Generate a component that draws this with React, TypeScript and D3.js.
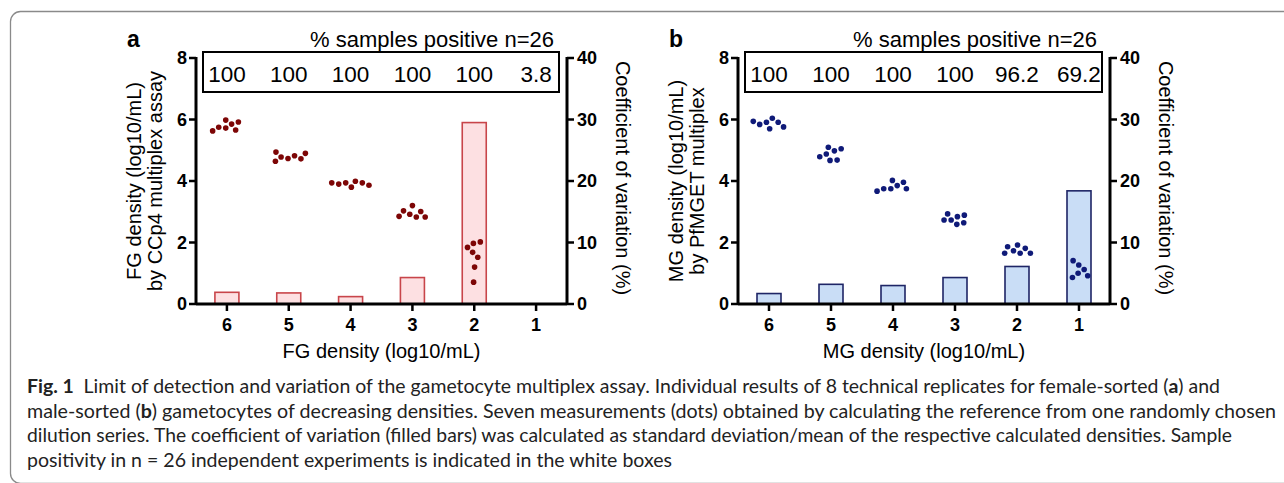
import * as d3 from 'd3';

const CATEGORIES = ['6', '5', '4', '3', '2', '1'];
const LEFT_TICKS = [0, 2, 4, 6, 8];
const RIGHT_TICKS = [0, 10, 20, 30, 40];

// panel a: female gametocytes (FG)
const FG_DOTS: number[][] = [
  [5.85, 5.98, 5.72, 5.92, 5.63, 5.66, 5.75],
  [4.82, 4.94, 4.73, 4.9, 4.64, 4.72, 4.78],
  [3.94, 3.9, 3.99, 3.8, 3.94, 3.86, 3.94],
  [3.01, 2.85, 3.2, 2.83, 3.03, 2.83, 2.92],
  [1.97, 1.84, 1.52, 1.2, 0.71, 2.02, 1.68],
  [],
];
const FG_CV = [1.9, 1.8, 1.2, 4.3, 29.5, 0];
const FG_POSITIVE = ['100', '100', '100', '100', '100', '3.8'];

// panel b: male gametocytes (MG)
const MG_DOTS: number[][] = [
  [5.91, 5.84, 6.04, 5.7, 5.94, 5.76, 5.91],
  [5.05, 4.79, 4.98, 4.67, 5.1, 4.68, 4.88],
  [3.85, 4.02, 3.75, 3.96, 3.67, 3.75, 3.75],
  [2.89, 2.73, 2.84, 2.59, 2.93, 2.64, 2.73],
  [1.81, 1.65, 1.92, 1.65, 1.86, 1.65, 1.73],
  [1.27, 1.0, 1.41, 1.12, 0.86, 0.92],
];
const MG_CV = [1.7, 3.2, 3.0, 4.3, 6.1, 18.4];
const MG_POSITIVE = ['100', '100', '100', '100', '96.2', '69.2'];

const FONT = 'Liberation Sans, Arial, sans-serif';

// beeswarm: y is pinned to the value, d3-force only moves the dots sideways
interface SwarmNode extends d3.SimulationNodeDatum { fy: number }
function swarm(values: number[], y: (v: number) => number, r: number) {
  const nodes: SwarmNode[] = values.map(v => ({ fy: y(v) }));
  d3.forceSimulation(nodes)
    .force('x', d3.forceX(0).strength(0.05))
    .force('collide', d3.forceCollide(r))
    .stop()
    .tick(300);
  return nodes.map(n => ({ dx: n.x ?? 0, cy: n.fy }));
}

interface PanelProps {
  x0: number;
  x1: number;
  tag: string;
  dots: number[][];
  cv: number[];
  positive: string[];
  dotColor: string;
  barFill: string;
  barStroke: string;
  xTitle: string;
  yTitle: [string, string];
}

function Panel({ x0, x1, tag, dots, cv, positive, dotColor, barFill, barStroke, xTitle, yTitle }: PanelProps) {
  const x = d3.scaleBand().domain(CATEGORIES).range([x0, x1]);
  const y = d3.scaleLinear().domain([0, 8]).range([304, 58]);
  const yR = d3.scaleLinear().domain([0, 40]).range([304, 58]);
  const cx = (c: string) => (x(c) ?? 0) + x.bandwidth() / 2;
  const barW = 24;
  const [top, bottom] = [y.range()[1], y.range()[0]];

  return (
    <g fontFamily={FONT}>
      {/* panel tag + title */}
      <text x={x0 - 69} y={47} fontSize={23} fontWeight="bold">{tag}</text>
      <text x={x1 - 13} y={47} fontSize={22} textAnchor="end">% samples positive n=26</text>

      {/* box with % positive */}
      <rect x={x0 + 7} y={52} width={x1 - x0 - 15} height={40} fill="white" stroke="black" strokeWidth={2} />
      {CATEGORIES.map((c, i) => (
        <text key={c} x={cx(c)} y={82} fontSize={22.5} textAnchor="middle">{positive[i]}</text>
      ))}

      {/* CV bars */}
      {CATEGORIES.map((c, i) => (
        <rect key={c} x={cx(c) - barW / 2} y={yR(cv[i])} width={barW} height={yR(0) - yR(cv[i])}
          fill={barFill} stroke={barStroke} strokeWidth={1.6} />
      ))}

      {/* dots */}
      {CATEGORIES.map((c, i) =>
        swarm(dots[i], y, 3.55).map((p, j) => (
          <circle key={c + j} cx={cx(c) + p.dx} cy={p.cy} r={2.8} fill={dotColor} />
        ))
      )}

      {/* axes */}
      <g stroke="black" strokeWidth={3} fill="none">
        <line x1={x0} x2={x0} y1={top - 1} y2={bottom} />
        <line x1={x1} x2={x1} y1={top - 1} y2={bottom} />
        <line x1={x0} x2={x1} y1={bottom} y2={bottom} />
        {LEFT_TICKS.map(t => <line key={'l' + t} x1={x0 - 7} x2={x0} y1={y(t)} y2={y(t)} strokeWidth={2.5} />)}
        {RIGHT_TICKS.map(t => <line key={'r' + t} x1={x1} x2={x1 + 7} y1={yR(t)} y2={yR(t)} strokeWidth={2.5} />)}
        {CATEGORIES.map(c => <line key={'x' + c} x1={cx(c)} x2={cx(c)} y1={bottom} y2={bottom + 7} strokeWidth={2.5} />)}
      </g>
      <g fontSize={18} fontWeight="bold">
        {LEFT_TICKS.map(t => (
          <text key={t} x={x0 - 9} y={y(t)} dy="0.36em" textAnchor="end">{t}</text>
        ))}
        {RIGHT_TICKS.map(t => (
          <text key={t} x={x1 + 10} y={yR(t)} dy="0.36em">{t}</text>
        ))}
        {CATEGORIES.map(c => (
          <text key={c} x={cx(c)} y={331} textAnchor="middle">{c}</text>
        ))}
      </g>

      {/* axis titles */}
      <text x={(x0 + x1) / 2} y={358} fontSize={20} textAnchor="middle">{xTitle}</text>
      <text transform={`translate(${x0 - 55},181) rotate(-90)`} fontSize={20} textAnchor="middle">{yTitle[0]}</text>
      <text transform={`translate(${x0 - 34},181) rotate(-90)`} fontSize={20} textAnchor="middle">{yTitle[1]}</text>
      <text transform={`translate(${x1 + 49},178) rotate(90)`} fontSize={20} textAnchor="middle">Coefficient of variation (%)</text>
    </g>
  );
}

const CAPTION_FONT = 'Lato, "Open Sans", sans-serif';

export default function App() {
  return (
    <svg width={1284} height={483} viewBox="0 0 1284 483"
      style={{ position: 'absolute', left: 0, top: 0, display: 'block', background: 'white' }}>
      <rect x={0} y={0} width={1284} height={483} fill="white" />
      <rect x={10.5} y={11.5} width={1300} height={472} rx={10} fill="none" stroke="#8a8a8a" strokeWidth={1.3} />

      <Panel x0={196} x1={567} tag="a" dots={FG_DOTS} cv={FG_CV} positive={FG_POSITIVE}
        dotColor="#7d0606" barFill="#fde0e2" barStroke="#c8454a"
        xTitle="FG density (log10/mL)" yTitle={['FG density (log10/mL)', 'by CCp4 multiplex assay']} />
      <Panel x0={738} x1={1110} tag="b" dots={MG_DOTS} cv={MG_CV} positive={MG_POSITIVE}
        dotColor="#0f1a78" barFill="#c9ddf6" barStroke="#1e2566"
        xTitle="MG density (log10/mL)" yTitle={['MG density (log10/mL)', 'by PfMGET multiplex']} />

      <g fontFamily={CAPTION_FONT} fontSize={19} fill="#222">
        <text x={27} y={393} textLength={1193} lengthAdjust="spacingAndGlyphs">
          <tspan fontWeight="bold">Fig. 1</tspan>
          <tspan>{'\u2002Limit of detection and variation of the gametocyte multiplex assay. Individual results of 8 technical replicates for female-sorted ('}</tspan>
          <tspan fontWeight="bold">a</tspan>
          <tspan>) and</tspan>
        </text>
        <text x={27} y={418} textLength={1249} lengthAdjust="spacingAndGlyphs">
          <tspan>male-sorted (</tspan>
          <tspan fontWeight="bold">b</tspan>
          <tspan>) gametocytes of decreasing densities. Seven measurements (dots) obtained by calculating the reference from one randomly chosen</tspan>
        </text>
        <text x={27} y={442} textLength={1205} lengthAdjust="spacingAndGlyphs">
          dilution series. The coefficient of variation (filled bars) was calculated as standard deviation/mean of the respective calculated densities. Sample
        </text>
        <text x={27} y={467} textLength={645} lengthAdjust="spacingAndGlyphs">
          positivity in n = 26 independent experiments is indicated in the white boxes
        </text>
      </g>
    </svg>
  );
}
